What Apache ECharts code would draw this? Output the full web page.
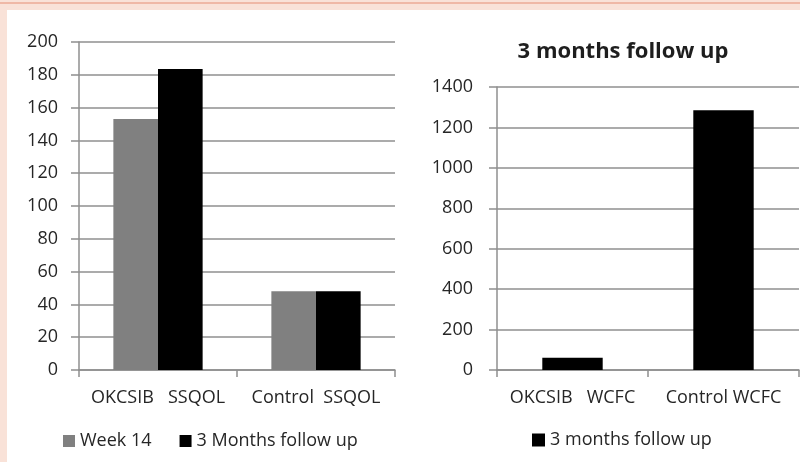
<!DOCTYPE html>
<html>
<head>
<meta charset="utf-8">
<script src="https://cdn.jsdelivr.net/npm/echarts@6/dist/echarts.min.js"></script>
<style>
  html, body { margin: 0; padding: 0; }
  body { width: 800px; height: 462px; background: #f9e2d8; position: relative; overflow: hidden; }
  .topline { position: absolute; left: 0; top: 2px; width: 800px; height: 2px; background: #efb8a6; }
  .panel { position: absolute; left: 7px; top: 10px; width: 793px; height: 452px; background: #fff; }
  #chart { position: absolute; left: 0; top: 0; width: 800px; height: 462px; }
</style>
</head>
<body>
<div class="topline"></div>
<div class="panel"></div>
<div id="chart"></div>
<script>
// left panel: SSQOL
var ssqolCategories = ["OKCSIB   SSQOL", "Control  SSQOL"];
var week14 = [153, 48];
var months3 = [183.5, 48];
var leftTicks = { min: 0, max: 200, interval: 20 };

// right panel: WCFC
var wcfcCategories = ["OKCSIB   WCFC", "Control WCFC"];
var wcfcMonths3 = [60, 1285];
var rightTicks = { min: 0, max: 1400, interval: 200 };

var chart = echarts.init(document.getElementById("chart"));
var txt = "#262626";
var font = "'Open Sans', 'Liberation Sans', sans-serif";
var gridColor = "#8f8f8f";

function yAxisOf(idx, ticks, margin) {
  return {
    type: "value",
    gridIndex: idx,
    min: ticks.min,
    max: ticks.max,
    interval: ticks.interval,
    axisLine: { show: true, lineStyle: { color: gridColor, width: 1.5 } },
    axisTick: { show: true, length: 8, lineStyle: { color: gridColor, width: 1.5 } },
    splitLine: { show: true, lineStyle: { color: gridColor, width: 1.5 } },
    axisLabel: {
      color: txt, fontSize: 18, fontFamily: font, margin: margin,
      formatter: function (v) { return String(v); }
    }
  };
}

function xAxisOf(idx, cats) {
  return {
    type: "category",
    gridIndex: idx,
    data: cats,
    axisLine: { show: true, lineStyle: { color: gridColor, width: 1.5 } },
    axisTick: { show: true, length: 7, alignWithLabel: false, lineStyle: { color: gridColor, width: 1.5 } },
    axisLabel: { color: txt, fontSize: 18, fontFamily: font, margin: 19, interval: 0 }
  };
}

var option = {
  animation: false,
  backgroundColor: "transparent",
  title: {
    text: "3 months follow up",
    left: 618,
    textAlign: "center",
    top: 36,
    textStyle: { color: "#1e1e1e", fontSize: 22, fontWeight: "bold", fontFamily: font }
  },
  legend: [
    {
      data: ["Week 14", "3 Months follow up"],
      left: 58,
      top: 427,
      itemWidth: 12,
      itemHeight: 12,
      itemGap: 28,
      icon: "rect",
      textStyle: { color: txt, fontSize: 18, fontFamily: font }
    },
    {
      data: ["3 months follow up"],
      left: 527,
      top: 426,
      itemWidth: 13,
      itemHeight: 13,
      itemGap: 3,
      icon: "rect",
      textStyle: { color: txt, fontSize: 18, fontFamily: font }
    }
  ],
  grid: [
    { left: 79, top: 42, width: 316, height: 328 },
    { left: 497, top: 87, width: 302, height: 283 }
  ],
  xAxis: [xAxisOf(0, ssqolCategories), xAxisOf(1, wcfcCategories)],
  yAxis: [yAxisOf(0, leftTicks, 21), yAxisOf(1, rightTicks, 24)],
  series: [
    {
      name: "Week 14",
      type: "bar",
      xAxisIndex: 0,
      yAxisIndex: 0,
      data: week14,
      barGap: "0%",
      barCategoryGap: "43.5%",
      itemStyle: { color: "#808080" }
    },
    {
      name: "3 Months follow up",
      type: "bar",
      xAxisIndex: 0,
      yAxisIndex: 0,
      data: months3,
      barGap: "0%",
      barCategoryGap: "43.5%",
      itemStyle: { color: "#000" }
    },
    {
      name: "3 months follow up",
      type: "bar",
      xAxisIndex: 1,
      yAxisIndex: 1,
      data: wcfcMonths3,
      barCategoryGap: "60%",
      itemStyle: { color: "#000" }
    }
  ]
};

chart.setOption(option);
</script>
</body>
</html>
